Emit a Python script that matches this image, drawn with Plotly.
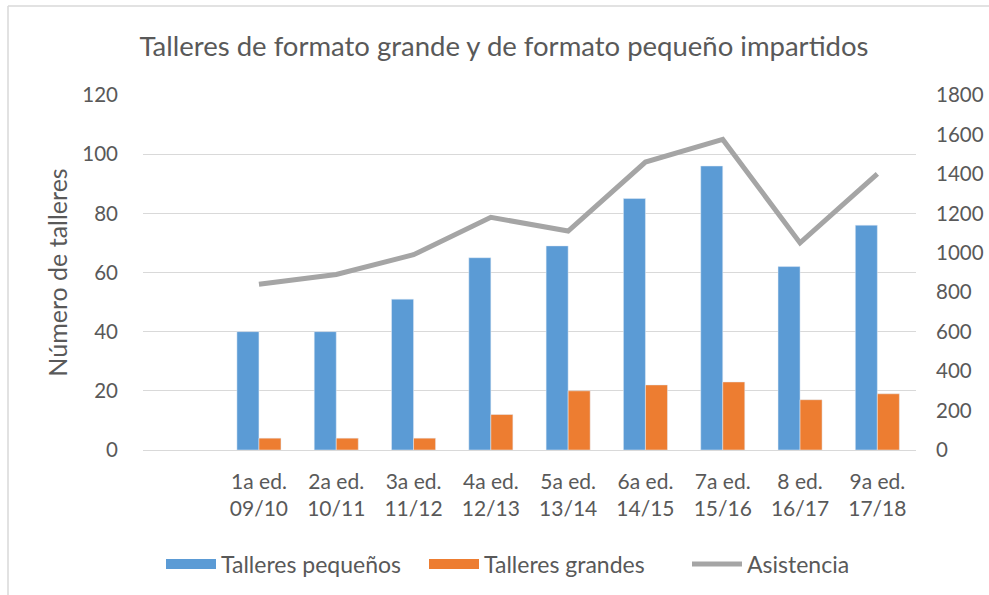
import plotly.graph_objects as go

categories = ["", "1a ed.<br>09/10", "2a ed.<br>10/11", "3a ed.<br>11/12", "4a ed.<br>12/13",
              "5a ed.<br>13/14", "6a ed.<br>14/15", "7a ed.<br>15/16", "8 ed.<br>16/17", "9a ed.<br>17/18"]
talleres_pequenos = [None, 40, 40, 51, 65, 69, 85, 96, 62, 76]
talleres_grandes = [None, 4, 4, 4, 12, 20, 22, 23, 17, 19]
asistencia = [None, 840, 890, 990, 1180, 1110, 1460, 1575, 1050, 1400]

FONT = "Lato, sans-serif"
TXT = "#595959"
BLUE, ORANGE, GREY = "#5B9BD5", "#ED7D31", "#A5A5A5"
x = list(range(len(categories)))

W, H = 989, 595
L, T = 143, 95
PW, PH = 773, 355


def px(page_x):
    return (page_x - L) / PW


def py(page_y):
    return 1 - (page_y - T) / PH


fig = go.Figure()
fig.add_trace(go.Bar(x=x, y=talleres_pequenos, name="Talleres pequeños", marker_color=BLUE,
                     showlegend=False))
fig.add_trace(go.Bar(x=x, y=talleres_grandes, name="Talleres grandes", marker_color=ORANGE,
                     showlegend=False))
fig.add_trace(go.Scatter(x=x, y=asistencia, name="Asistencia", mode="lines", yaxis="y2",
                         line=dict(color=GREY, width=5), showlegend=False))
# legend entries (wide swatches like the original)
for nm, col, w in [("Talleres pequeños", BLUE, 13), ("Talleres grandes", ORANGE, 13), ("Asistencia", GREY, 5)]:
    fig.add_trace(go.Scatter(x=[None], y=[None], mode="lines", name=nm,
                             line=dict(color=col, width=w), showlegend=True))

fig.update_layout(
    width=W, height=H,
    margin=dict(l=L, r=W - L - PW, t=T, b=H - T - PH, autoexpand=False),
    paper_bgcolor="white", plot_bgcolor="white",
    font=dict(family=FONT, color=TXT, size=20),
    title=dict(text="Talleres de formato grande y de formato pequeño impartidos",
               x=px(504), xref="paper", xanchor="center",
               y=1 - 46 / H, yanchor="middle",
               font=dict(size=27.5, color=TXT, family=FONT)),
    barmode="group", bargap=0.43, bargroupgap=0,
    xaxis=dict(tickmode="array", tickvals=x, ticktext=categories, range=[-0.5, 9.5],
               showgrid=False, showline=False, ticks="", ticklabelstandoff=17,
               tickfont=dict(size=21, color=TXT)),
    yaxis=dict(range=[0, 120], dtick=20, showgrid=True, gridcolor="#D9D9D9", gridwidth=1,
               zeroline=True, zerolinecolor="#D9D9D9", zerolinewidth=1, showline=False,
               ticks="", ticklabelstandoff=24,
               title=dict(text="Número de talleres", font=dict(size=25, color=TXT), standoff=7),
               tickfont=dict(size=20.5, color=TXT)),
    yaxis2=dict(range=[0, 1800], dtick=200, overlaying="y", side="right", showgrid=False,
                zeroline=False, showline=False, ticks="", ticklabelstandoff=19,
                tickfont=dict(size=20.5, color=TXT)),
    legend=dict(orientation="h", x=px(950), xanchor="right",
                y=py(564), yanchor="middle",
                font=dict(size=23, color=TXT), traceorder="normal", itemwidth=50,
                entrywidth=198, entrywidthmode="pixels", tracegroupgap=0),
    showlegend=True,
)

# chart border (top and left edges visible)
fig.add_shape(type="line", xref="paper", yref="paper",
              x0=px(8), x1=px(W), y0=py(6), y1=py(6),
              line=dict(color="#D9D9D9", width=1.5), layer="below")
fig.add_shape(type="line", xref="paper", yref="paper",
              x0=px(8), x1=px(8), y0=py(6), y1=py(H),
              line=dict(color="#D9D9D9", width=1.5), layer="below")

fig.write_html("out.html", config={"displayModeBar": False},
               post_script="document.body.style.margin='0';document.body.style.overflow='hidden';")
